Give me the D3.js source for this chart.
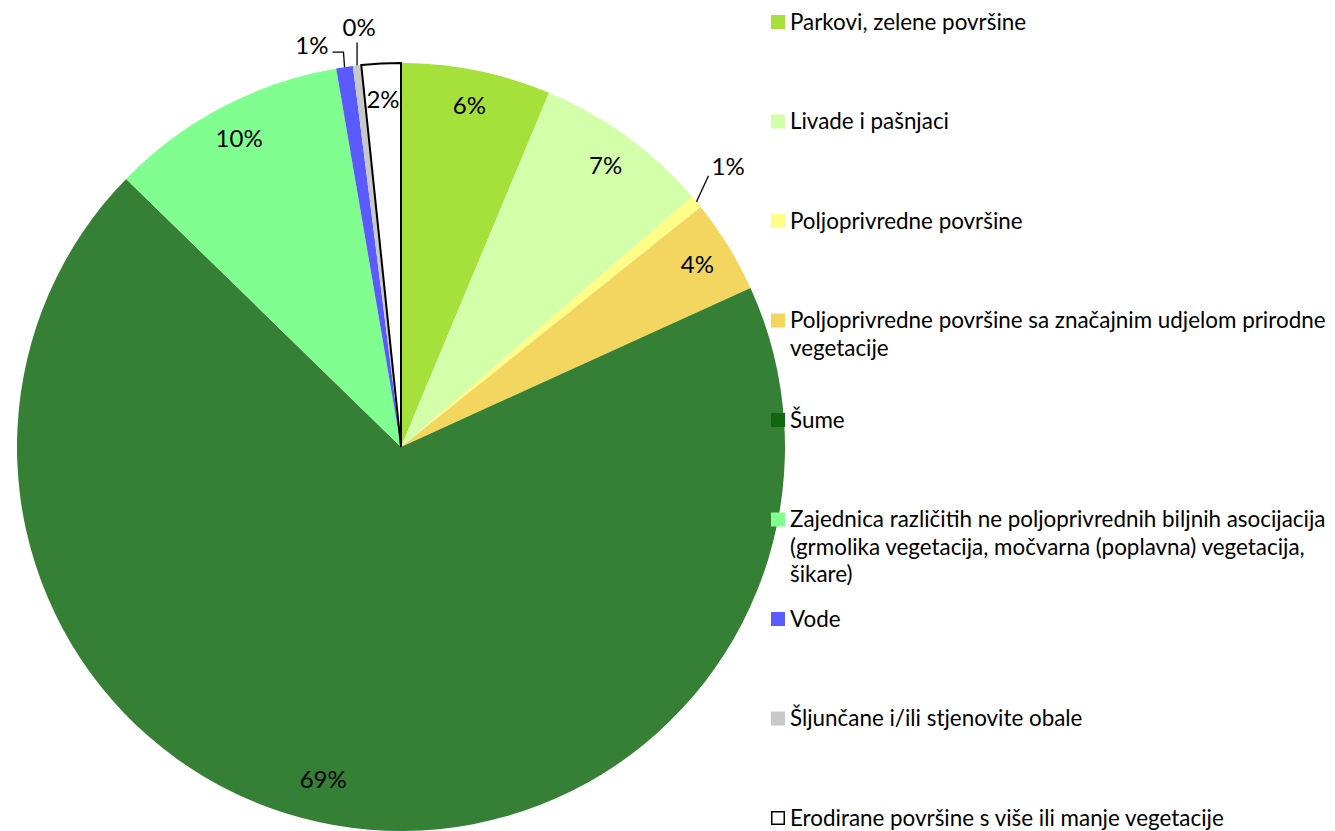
<!DOCTYPE html>
<html>
<head>
<meta charset="utf-8">
<script src="https://cdn.jsdelivr.net/npm/d3@7"></script>
<style>
  body { margin: 0; background: #fff; }
  svg { font-family: Lato, "Open Sans", sans-serif; }
</style>
</head>
<body>
<svg></svg>
<script>
const svgWidth = 1335;
const svgHeight = 831;

// categories (legend lines), values in %, labels
const categories = [
    ["Parkovi, zelene površine"],
    ["Livade i pašnjaci"],
    ["Poljoprivredne površine"],
    ["Poljoprivredne površine sa značajnim udjelom prirodne", "vegetacije"],
    ["Šume"],
    ["Zajednica različitih ne poljoprivrednih biljnih asocijacija", "(grmolika vegetacija, močvarna (poplavna) vegetacija,", "šikare)"],
    ["Vode"],
    ["Šljunčane i/ili stjenovite obale"],
    ["Erodirane površine s više ili manje vegetacije"]
];
const values = [6.3, 7.4, 0.55, 3.95, 69.1, 10.0, 0.7, 0.35, 1.65];
const labels = ["6%", "7%", "1%", "4%", "69%", "10%", "1%", "0%", "2%"];

const sliceColors  = ["#a6e03a", "#d4ffaa", "#ffff88", "#f2d660", "#358035", "#80ff90", "#5a5aff", "#c8c8c8", "#ffffff"];
const legendColors = ["#a6e03a", "#d4ffaa", "#ffff88", "#f2d660", "#116611", "#80ff90", "#5a5aff", "#c8c8c8", "#ffffff"];

const svg = d3.select("svg")
    .attr("width", svgWidth)
    .attr("height", svgHeight);

const cx = 401, cy = 447, radius = 384;
const g = svg.append("g").attr("transform", "translate(" + cx + "," + cy + ")");

const pie = d3.pie().sort(null).value(d => d);
const arcs = pie(values);

const arc = d3.arc().innerRadius(0).outerRadius(radius);
const labelArc = d3.arc().innerRadius(348).outerRadius(348);

g.selectAll("path.slice")
    .data(arcs)
    .enter().append("path")
    .attr("class", "slice")
    .attr("d", arc)
    .attr("fill", (d, i) => sliceColors[i])
    .attr("stroke", (d, i) => i === 8 ? "#000" : "none")
    .attr("stroke-width", 2)
    .attr("stroke-linejoin", "miter");

// small slices get their labels outside, with a leader line
const outside = {
    2: {ex: 12, ey: -26, hx: 0, anchor: "start", dx: 3, dy: -9},
    6: {ex: -1, ey: -15, hx: -11, anchor: "end", dx: -4, dy: -7},
    7: {ex: 0, ey: -23, hx: 0, anchor: "middle", dx: 2, dy: -15}
};
// the big slice's label sits a bit off its centroid, like Excel does
const nudge = {4: [-18, -10]};

const polar = (a, r) => [Math.sin(a) * r, -Math.cos(a) * r];

arcs.forEach((d, i) => {
    const mid = (d.startAngle + d.endAngle) / 2;
    if (outside[i]) {
        const o = outside[i];
        const p1 = polar(mid, radius);
        const p2 = [p1[0] + o.ex, p1[1] + o.ey];
        const p3 = [p2[0] + o.hx, p2[1]];
        g.append("polyline")
            .attr("points", [p1, p2, p3].map(p => p.join(",")).join(" "))
            .attr("fill", "none")
            .attr("stroke", "#000")
            .attr("stroke-width", 1.3);
        g.append("text")
            .attr("x", p3[0] + o.dx)
            .attr("y", p3[1] + o.dy)
            .attr("dy", "0.35em")
            .attr("text-anchor", o.anchor)
            .attr("font-size", 24)
            .attr("fill", "#000")
            .text(labels[i]);
    } else {
        const c = labelArc.centroid(d);
        const n = nudge[i] || [0, 0];
        g.append("text")
            .attr("x", c[0] + n[0])
            .attr("y", c[1] + n[1])
            .attr("dy", "0.35em")
            .attr("text-anchor", "middle")
            .attr("font-size", 24)
            .attr("fill", "#000")
            .text(labels[i]);
    }
});

// legend
const legend = svg.append("g").attr("transform", "translate(771,22)");
const item = legend.selectAll("g")
    .data(categories)
    .enter().append("g")
    .attr("transform", (d, i) => "translate(0," + (i * 99.5) + ")");

item.append("rect")
    .attr("x", (d, i) => i === 8 ? 0.75 : 0)
    .attr("y", (d, i) => i === 8 ? -6.25 : -7)
    .attr("width", (d, i) => i === 8 ? 12.5 : 14)
    .attr("height", (d, i) => i === 8 ? 12.5 : 14)
    .attr("fill", (d, i) => legendColors[i])
    .attr("stroke", (d, i) => i === 8 ? "#000" : "none")
    .attr("stroke-width", 1.5);

item.append("text")
    .attr("x", 19)
    .attr("font-size", 22.4)
    .attr("fill", "#000")
    .selectAll("tspan")
    .data(d => d)
    .enter().append("tspan")
    .attr("x", 19)
    .attr("y", (d, j) => j * 27.5)
    .attr("dy", "0.35em")
    .text(d => d);
</script>
</body>
</html>
